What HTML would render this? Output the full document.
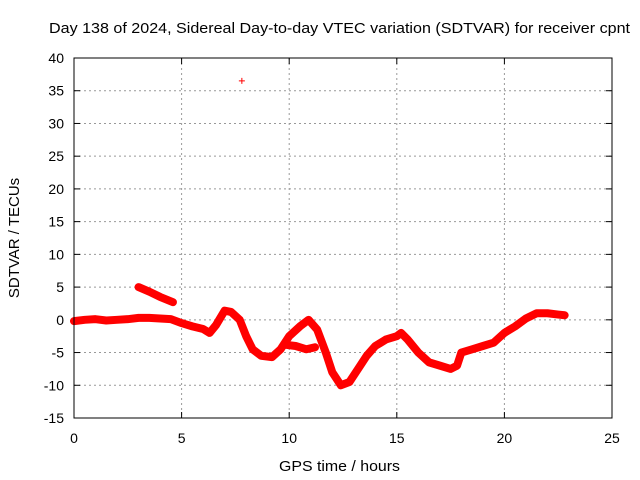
<!DOCTYPE html>
<html><head><meta charset="utf-8"><style>
body{margin:0;background:#fff;}
svg{display:block;font-family:"Liberation Sans",sans-serif;}
</style></head><body>
<svg id="chart" width="640" height="480">
<text x="49" y="33" font-size="15" textLength="581" lengthAdjust="spacingAndGlyphs">Day 138 of 2024, Sidereal Day-to-day VTEC variation (SDTVAR) for receiver cpnt</text>
<text x="279" y="471" font-size="15" textLength="121" lengthAdjust="spacingAndGlyphs">GPS time / hours</text>
<text transform="translate(19,238) rotate(-90)" font-size="15" text-anchor="middle">SDTVAR / TECUs</text>
<g id="grid"></g><g id="data"></g>
<rect x="74" y="58" width="538" height="360" fill="none" stroke="#000"/>
</svg>
<script>
const xTicks=[0,5,10,15,20,25];
const yTicks=[-15,-10,-5,0,5,10,15,20,25,30,35,40];
const mainT=[0,0.5,1,1.5,2,2.5,3,3.5,4,4.5,5,5.5,6,6.3,6.6,7,7.3,7.7,8,8.3,8.7,9.2,9.6,10,10.5,10.9,11.3,11.7,12,12.4,12.8,13.2,13.6,14,14.5,15,15.2,15.5,16,16.5,17,17.5,17.8,18,18.5,19,19.5,20,20.5,21,21.5,22,22.5,22.8];
const mainV=[-0.2,0,0.1,-0.1,0,0.1,0.3,0.3,0.2,0.1,-0.5,-1,-1.4,-2,-0.8,1.4,1.2,0,-2.5,-4.5,-5.5,-5.7,-4.5,-2.5,-1,0,-1.5,-5,-8,-10,-9.5,-7.5,-5.5,-4,-3,-2.5,-2,-3,-5,-6.5,-7,-7.5,-7,-5,-4.5,-4,-3.5,-2,-1,0.2,1,1,0.8,0.7];
const branchT=[9.8,10.3,10.8,11.2];
const branchV=[-3.8,-4,-4.5,-4.2];
const upperT=[3,3.5,4,4.6];
const upperV=[5,4.3,3.5,2.7];
const outlierT=[7.8];
const outlierV=[36.5];
const X=t=>74+t*538/25, Y=v=>58+(40-v)*360/55;
const NS='http://www.w3.org/2000/svg';
const svg=document.getElementById('chart'),g=document.getElementById('grid'),d=document.getElementById('data');
function mk(tag,a,p){const e=document.createElementNS(NS,tag);for(const k in a)e.setAttribute(k,a[k]);p.appendChild(e);return e;}
xTicks.forEach(t=>{const x=X(t);
 if(t>0&&t<25){const l=mk('line',{x1:x,x2:x,y1:58,y2:418,stroke:'#999','stroke-dasharray':'2,3'},g);}
 mk('line',{x1:x,x2:x,y1:418,y2:412,stroke:'#000'},g);mk('line',{x1:x,x2:x,y1:58,y2:64,stroke:'#000'},g);
 const tx=mk('text',{x:x,y:443,'font-size':14,'text-anchor':'middle'},g);tx.textContent=t;
 });
yTicks.forEach(v=>{const y=Y(v);
 if(v>-15&&v<40){const l=mk('line',{x1:74,x2:612,y1:y,y2:y,stroke:'#999','stroke-dasharray':'2,3'},g);}
 mk('line',{x1:74,x2:80,y1:y,y2:y,stroke:'#000'},g);mk('line',{x1:606,x2:612,y1:y,y2:y,stroke:'#000'},g);
 const tx=mk('text',{x:64,y:y+5,'font-size':14,'text-anchor':'end'},g);tx.textContent=v;
 });
function band(T,V,name){const pts=T.map((t,i)=>X(t)+','+Y(V[i])).join(' ');
 const p=mk('polyline',{points:pts,fill:'none',stroke:'#f00','stroke-width':8,'stroke-linejoin':'round','stroke-linecap':'round'},d);
 }
band(mainT,mainV,'sdtvar-main-series');
band(branchT,branchV,'sdtvar-branch-series');
band(upperT,upperV,'sdtvar-upper-series');
outlierT.forEach((t,i)=>{const x=X(t),y=Y(outlierV[i]);
 const p=mk('path',{d:`M${x-3},${y}H${x+3}M${x},${y-3}V${y+3}`,stroke:'#f00','stroke-width':1},d);
 });
</script>
</body></html>
